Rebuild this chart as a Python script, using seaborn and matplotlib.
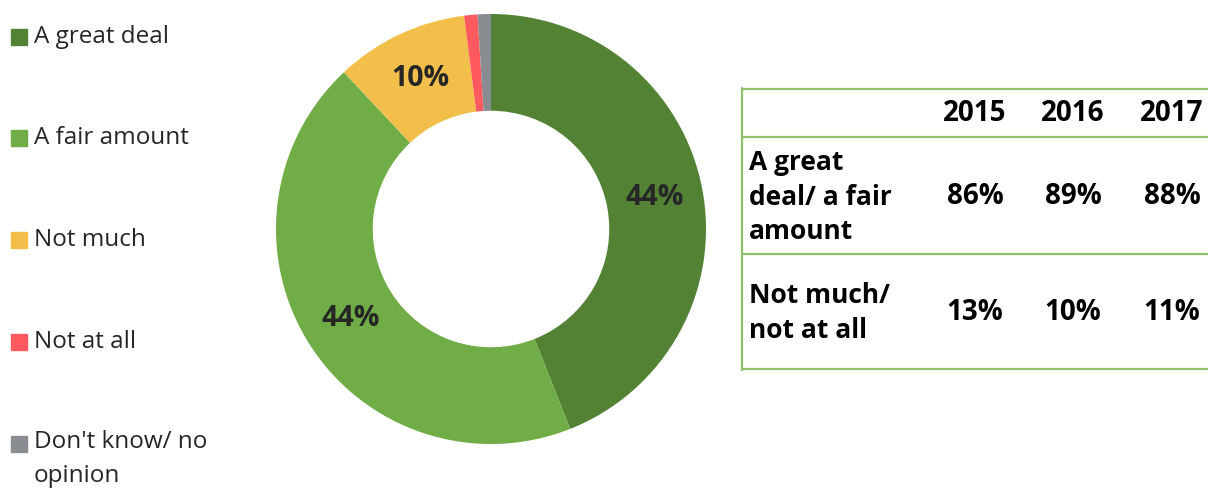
import matplotlib
matplotlib.use("Agg")
import matplotlib.pyplot as plt
from matplotlib.patches import Rectangle
import numpy as np
import seaborn as sns

# Survey answers shown in the donut
categories = ["A great deal", "A fair amount", "Not much", "Not at all",
              "Don't know/ no\nopinion"]
shares = [44, 44, 10, 1, 1]
slice_labels = ["44%", "44%", "10%", "", ""]

# Summary table by year
years = ["2015", "2016", "2017"]
row_names = ["A great\ndeal/ a fair\namount", "Not much/\nnot at all"]
row_values = [["86%", "89%", "88%"], ["13%", "10%", "11%"]]

sns.set_theme(style="white")
plt.rcParams["font.family"] = ["Open Sans", "DejaVu Sans"]

palette = sns.color_palette(["#548235", "#70AD47", "#F2C04A", "#FF5A5F", "#898C91"])
text_dark = "#262626"

W, H = 1208, 490
fig = plt.figure(figsize=(W / 100, H / 100), dpi=100)

# Donut chart
cx, cy, r = 491, 229, 215
ax = fig.add_axes([(cx - r) / W, (H - cy - r) / H, 2 * r / W, 2 * r / H])
wedges, _ = ax.pie(shares, colors=palette, startangle=90, counterclock=False,
                   radius=1.0, wedgeprops=dict(width=0.45, edgecolor="none"))
ax.set_xlim(-1, 1)
ax.set_ylim(-1, 1)
ax.set_aspect("equal")
ax.axis("off")

start = 0.0
total = sum(shares)
for val, lab in zip(shares, slice_labels):
    mid = (start + val / 2) / total * 2 * np.pi
    start += val
    if not lab:
        continue
    rr = 0.775
    ax.text(rr * np.sin(mid), rr * np.cos(mid), lab, ha="center", va="center",
            fontsize=20.5, fontweight="bold", color=text_dark)

# Legend down the left side
legend_y = [37, 138, 240, 342, 444]
for col, lab, y in zip(palette, categories, legend_y):
    fig.patches.append(Rectangle((11 / W, 1 - (y + 8) / H), 16 / W, 16 / H,
                                 transform=fig.transFigure, color=col))
    if "\n" in lab:
        fig.text(34 / W, 1 - (y - 14) / H, lab, ha="left", va="top",
                 fontsize=17.5, color=text_dark, linespacing=1.55)
    else:
        fig.text(34 / W, 1 - y / H, lab, ha="left", va="center",
                 fontsize=17.5, color=text_dark)

# Table on the right
tx0, ty0, tx1, ty1 = 741, 88, 1208, 370
tax = fig.add_axes([tx0 / W, (H - ty1) / H, (tx1 - tx0) / W, (ty1 - ty0) / H])
tax.set_xlim(tx0, tx1)
tax.set_ylim(ty1, ty0)
tax.axis("off")
border = "#8DC26A"
lw = 1.6
for yy in [ty0 + 1, 137, 254, ty1 - 1]:
    tax.plot([tx0, tx1], [yy, yy], color=border, lw=lw, solid_capstyle="butt", clip_on=False)
tax.plot([tx0 + 1, tx0 + 1], [ty0, ty1], color=border, lw=lw, clip_on=False)

col_x = [975, 1073, 1172]
for x, yr in zip(col_x, years):
    tax.text(x, 113, yr, ha="center", va="center", fontsize=20,
             fontweight="bold", color="black")
row_y = [197, 313]
for yy, name, vals in zip(row_y, row_names, row_values):
    tax.text(749, yy, name, ha="left", va="center", fontsize=19,
             fontweight="bold", color="black", linespacing=1.34)
    for x, v in zip(col_x, vals):
        tax.text(x, yy - 1, v, ha="center", va="center", fontsize=20,
                 fontweight="bold", color="black")

fig.savefig("out.png", dpi=100, facecolor="white")
